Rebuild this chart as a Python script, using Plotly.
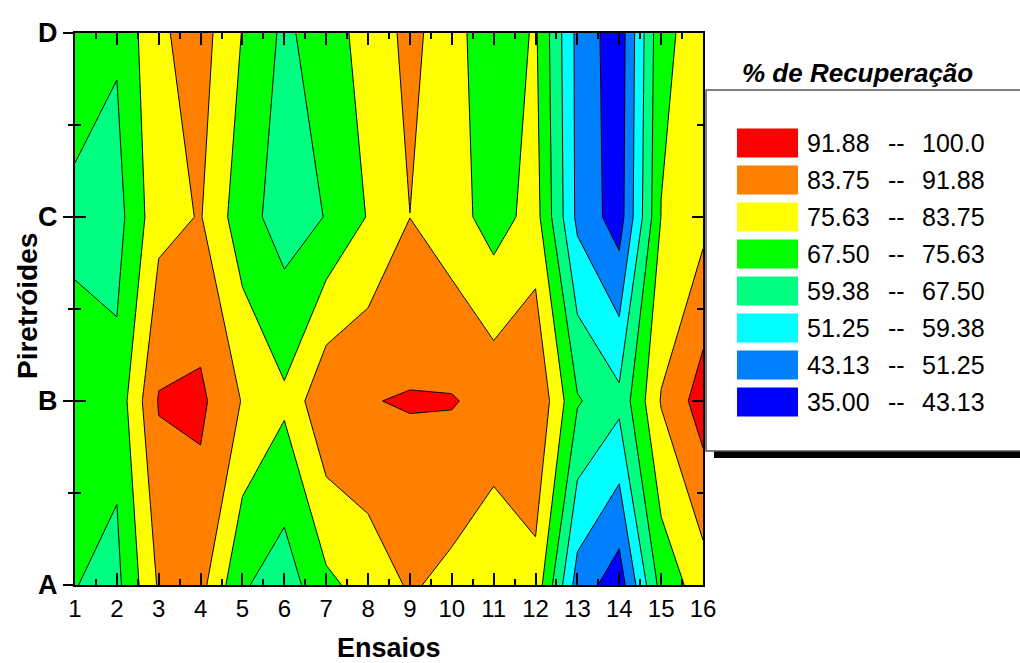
import plotly.graph_objects as go

# Ensaios (x) and Piretróides (y)
ensaios = list(range(1, 17))
piretroides = ["A", "B", "C", "D"]
piretroide_pos = [0, 1, 2, 3]

# % de Recuperação per ensaio, one list per piretróide
rec_A = [67.7, 65.4, 84.7, 86.4, 68.5, 63.1, 73.8, 78.8, 84.7, 81.5, 77.1, 81.0, 47.5, 38.6, 70.5, 79.8]
rec_B = [72.3, 70.2, 92.5, 93.6, 83.3, 77.1, 90.7, 91.6, 92.4, 92.4, 89.5, 91.5, 68.3, 61.6, 84.3, 96.0]
rec_C = [65.0, 64.3, 81.2, 84.2, 70.9, 63.7, 67.8, 76.1, 83.7, 79.3, 72.0, 78.8, 49.3, 39.0, 75.8, 81.2]
rec_D = [73.5, 68.6, 82.4, 87.3, 75.3, 65.8, 72.0, 78.7, 86.0, 79.1, 69.5, 76.7, 49.0, 38.1, 74.0, 78.6]

# contour classes (low to high)
level_start = 35.0
level_end = 100.0
level_step = 8.125
band_colors = ["#0000FF", "#0080FF", "#00FFFF", "#00FF80",
               "#00FF00", "#FFFF00", "#FF8000", "#FF0000"]
legend_low = ["91.88", "83.75", "75.63", "67.50", "59.38", "51.25", "43.13", "35.00"]
legend_high = ["100.0", "91.88", "83.75", "75.63", "67.50", "59.38", "51.25", "43.13"]

FONT = "Liberation Sans, Arial, sans-serif"

# stepped colorscale: fill of band k is sampled at (k+1)/9
n_levels = int(round((level_end - level_start) / level_step)) + 1
scale = []
bounds = [0.0] + [(j + 0.5) / n_levels for j in range(n_levels)] + [1.0]
seg_colors = [band_colors[0]] + band_colors + [band_colors[-1]]
for i, col in enumerate(seg_colors):
    scale.append([bounds[i], col])
    scale.append([bounds[i + 1], col])

fig = go.Figure()
fig.add_trace(go.Contour(
    x=ensaios, y=piretroide_pos, z=[rec_A, rec_B, rec_C, rec_D],
    autocontour=False,
    contours=dict(start=level_start, end=level_end, size=level_step,
                  coloring="fill", showlines=True),
    line=dict(color="black", width=1, smoothing=0),
    colorscale=scale, showscale=False, hoverinfo="skip",
))
# carrier for the outer left tick marks and labels
fig.add_trace(go.Scatter(x=[None], y=[None], yaxis="y2", showlegend=False,
                         hoverinfo="skip"))

L, R, T, B = 75, 317, 33, 78
W, H = 1020, 663
pw, ph = W - L - R, H - T - B


def px_x(p):
    return (p - L) / pw


def px_y(p):
    return (H - B - p) / ph


fig.update_layout(
    width=W, height=H,
    margin=dict(l=L, r=R, t=T, b=B, pad=0, autoexpand=False),
    paper_bgcolor="white", plot_bgcolor="white",
    font=dict(family=FONT, color="black"),
    showlegend=False,
    xaxis=dict(
        range=[1, 16], tickvals=ensaios, ticks="inside", ticklen=12,
        tickwidth=2, tickcolor="black", showline=True, linewidth=2,
        linecolor="black", mirror="ticks", showgrid=False, zeroline=False,
        tickfont=dict(size=24, family=FONT), ticklabelstandoff=1,
        automargin=False,
        minor=dict(dtick=0.5, tick0=1, ticks="inside", ticklen=6,
                   tickwidth=2, tickcolor="black", showgrid=False),
    ),
    yaxis=dict(
        range=[0, 3], tickvals=piretroide_pos, ticks="inside", ticklen=11,
        tickwidth=2, tickcolor="black", showline=True, linewidth=2,
        linecolor="black", mirror="ticks", showgrid=False, zeroline=False,
        showticklabels=False, automargin=False,
        minor=dict(dtick=0.5, tick0=0, ticks="inside", ticklen=6,
                   tickwidth=2, tickcolor="black", showgrid=False),
    ),
    yaxis2=dict(
        overlaying="y", side="left", range=[0, 3], tickvals=piretroide_pos,
        ticktext=[f"<b>{p}</b>" for p in piretroides],
        ticks="outside", ticklen=11, tickwidth=2, tickcolor="black",
        showline=False, showgrid=False, zeroline=False, automargin=False,
        tickfont=dict(size=27, family=FONT),
        minor=dict(dtick=0.5, tick0=0, ticks="outside", ticklen=6,
                   tickwidth=2, tickcolor="black", showgrid=False),
    ),
)

# legend box with drop shadow
shapes = [
    dict(type="rect", xref="paper", yref="paper",
         x0=px_x(714), x1=px_x(1040), y0=px_y(458), y1=px_y(98),
         fillcolor="black", line=dict(width=0), layer="above"),
    dict(type="rect", xref="paper", yref="paper",
         x0=px_x(706), x1=px_x(1032), y0=px_y(451), y1=px_y(90),
         fillcolor="white", line=dict(color="#555555", width=1.5),
         layer="above"),
]
annotations = [
    # axis titles
    dict(text="<b>Ensaios</b>", xref="paper", yref="paper",
         x=px_x(389), y=px_y(648), xanchor="center", yanchor="middle",
         showarrow=False, font=dict(size=27, family=FONT, color="black")),
    dict(text="<b>Piretróides</b>", xref="paper", yref="paper",
         x=px_x(27), y=px_y(306), xanchor="center", yanchor="middle",
         textangle=-90, showarrow=False,
         font=dict(size=28, family=FONT, color="black")),
    # legend title
    dict(text="<b><i>% de Recuperação</i></b>", xref="paper", yref="paper",
         x=px_x(857), y=px_y(73), xanchor="center", yanchor="middle",
         showarrow=False, font=dict(size=26, family=FONT, color="black")),
]
row0, row_gap, sw_h = 143, 37, 29
for i in range(len(legend_low)):
    cy = row0 + i * row_gap
    shapes.append(dict(
        type="rect", xref="paper", yref="paper",
        x0=px_x(737), x1=px_x(798), y0=px_y(cy + sw_h / 2), y1=px_y(cy - sw_h / 2),
        fillcolor=band_colors[len(band_colors) - 1 - i], line=dict(width=0),
        layer="above"))
    for txt, xp, anc in ((legend_low[i], 805, "left"), ("--", 896, "center"),
                         (legend_high[i], 920, "left")):
        annotations.append(dict(
            text=txt, xref="paper", yref="paper", x=px_x(xp), y=px_y(cy),
            xanchor=anc, yanchor="middle", showarrow=False,
            font=dict(size=25, family=FONT, color="black")))

fig.update_layout(shapes=shapes, annotations=annotations)
fig.write_html("out.html")
